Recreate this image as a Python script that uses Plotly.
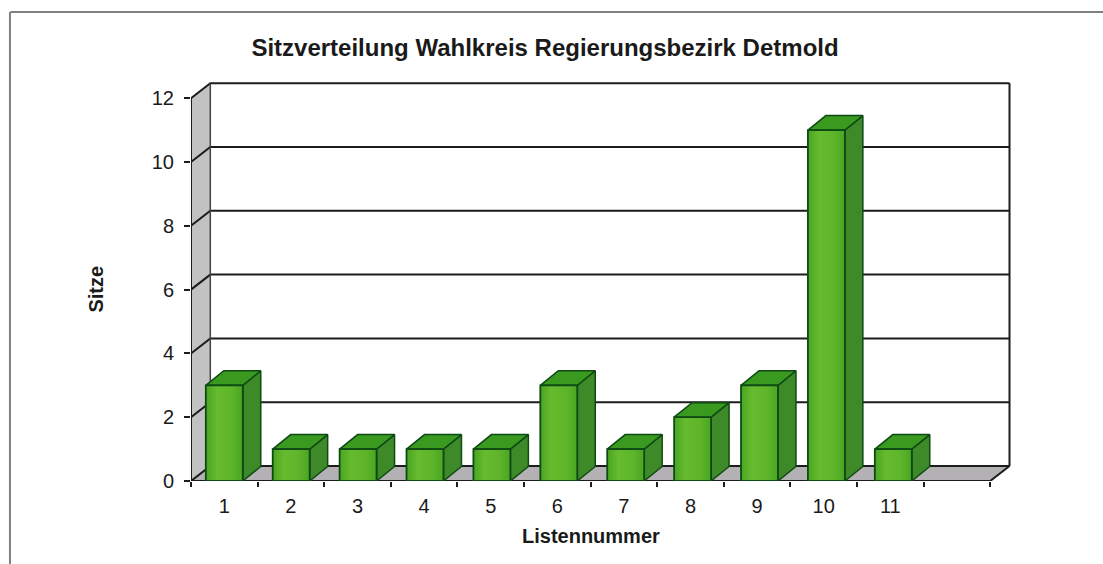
import plotly.graph_objects as go

# ---- data ----
categories = [1, 2, 3, 4, 5, 6, 7, 8, 9, 10, 11]
seats = [3, 1, 1, 1, 1, 3, 1, 2, 3, 11, 1]
y_ticks = [0, 2, 4, 6, 8, 10, 12]
title_text = "Sitzverteilung Wahlkreis Regierungsbezirk Detmold"
x_title = "Listennummer"
y_title = "Sitze"

# ---- 3D look, in axis units ----
X_MIN, X_MAX = 0.5, 12.5
WALL_DX, WALL_DY = 0.29, 0.47
BAR_W, BAR_DX, BAR_DY = 0.555, 0.27, 0.455
BAR_PITCH = 1.0045  # bars sit very slightly wider apart than the labels

EDGE = "#0e4a14"
DARK = "#1c1c1c"
FONT = "Liberation Sans, Arial, sans-serif"

fig = go.Figure()


def poly(xs, ys, fill=None, line=None, width=1.5, gradient=None):
    kw = dict(x=xs, y=ys, mode="lines", hoverinfo="skip", showlegend=False)
    kw["line"] = dict(color=line or "rgba(0,0,0,0)", width=width)
    if gradient:
        kw.update(fill="toself", fillgradient=gradient)
    elif fill:
        kw.update(fill="toself", fillcolor=fill)
    fig.add_trace(go.Scatter(**kw))


# side wall and floor
top = y_ticks[-1]
poly([X_MIN, X_MIN + WALL_DX, X_MIN + WALL_DX, X_MIN, X_MIN],
     [0, WALL_DY, top + WALL_DY, top, 0], fill="#c2c2c2")
poly([X_MIN, X_MAX, X_MAX + WALL_DX, X_MIN + WALL_DX, X_MIN],
     [0, 0, WALL_DY, WALL_DY, 0], fill="#b3b1b3")

# grid lines: side wall diagonal + back wall horizontal
for v in y_ticks:
    poly([X_MIN, X_MIN + WALL_DX, X_MAX + WALL_DX],
         [v, v + WALL_DY, v + WALL_DY], line=DARK, width=2)

# wall edges and axis lines
poly([X_MIN + WALL_DX, X_MIN + WALL_DX], [WALL_DY, top + WALL_DY], line="#444444", width=1.5)
poly([X_MAX + WALL_DX, X_MAX + WALL_DX], [WALL_DY, top + WALL_DY], line=DARK, width=2)
poly([X_MIN, X_MIN], [0, top], line=DARK, width=2)
poly([X_MIN, X_MAX, X_MAX + WALL_DX], [0, 0, WALL_DY], line=DARK, width=2)

# bars
front_gradient = dict(
    type="horizontal",
    colorscale=[[0, "#4aa522"], [0.3, "#66bb2e"], [0.7, "#5eb52a"], [1, "#4aa522"]],
)
for c, v in zip(categories, seats):
    centre = 1 + (c - 1) * BAR_PITCH
    left, right = centre - BAR_W / 2, centre + BAR_W / 2
    # right side
    poly([right, right + BAR_DX, right + BAR_DX, right, right],
         [0, BAR_DY, v + BAR_DY, v, 0], fill="#3f8a28", line=EDGE)
    # top
    poly([left, right, right + BAR_DX, left + BAR_DX, left],
         [v, v, v + BAR_DY, v + BAR_DY, v], fill="#3a9a20", line=EDGE)
    # front
    poly([left, right, right, left, left], [0, 0, v, v, 0],
         gradient=front_gradient, line=EDGE, width=1.8)

fig.add_annotation(text=f"<b>{x_title}</b>", x=(X_MIN + X_MAX) / 2, y=0, xref="x", yref="y",
                   yshift=-55, showarrow=False, font=dict(family=FONT, size=20, color="#1a1a1a"))
fig.add_annotation(text=f"<b>{y_title}</b>", x=X_MIN, y=top / 2, xref="x", yref="y",
                   xshift=-95, textangle=-90, showarrow=False,
                   font=dict(family=FONT, size=20, color="#1a1a1a"))

# scanned page frame
fig.add_shape(type="line", xref="paper", yref="paper", x0=-0.22, x1=1.12, y0=1.1725, y1=1.1725,
              line=dict(color="#808080", width=2))
fig.add_shape(type="line", xref="paper", yref="paper", x0=-0.2205, x1=-0.2205, y0=-0.25, y1=1.1725,
              line=dict(color="#808080", width=2))

fig.update_layout(
    width=1103, height=564, autosize=False,
    margin=dict(l=191, r=91, t=81, b=83, pad=0),
    paper_bgcolor="white", plot_bgcolor="white",
    title=dict(text=f"<b>{title_text}</b>", x=545 / 1103, xanchor="center",
               xref="container", y=1 - 48 / 564, yanchor="middle",
               font=dict(family=FONT, size=24, color="#1a1a1a")),
    font=dict(family=FONT, size=20, color="#1a1a1a"),
    xaxis=dict(range=[X_MIN, X_MIN + 821 / 66.6], tickmode="array", tickvals=categories,
               ticktext=[str(c) for c in categories], ticks="", showgrid=False, zeroline=False,
               showline=False, ticklabelstandoff=11,
               minor=dict(tickmode="array",
                          tickvals=[c - 0.5 for c in categories] + [categories[-1] + 0.5, categories[-1] + 1.5],
                          ticks="outside", ticklen=5, tickwidth=1.5, tickcolor=DARK, showgrid=False)),
    yaxis=dict(range=[0, 400 / 31.9], tickmode="array", tickvals=y_ticks,
               ticks="outside", ticklen=6, tickwidth=1.5, tickcolor=DARK, ticklabelstandoff=6,
               showgrid=False, zeroline=False, showline=False),
)

fig.write_html("out.html", config=dict(displayModeBar=False),
               post_script="document.body.style.margin='0';")
